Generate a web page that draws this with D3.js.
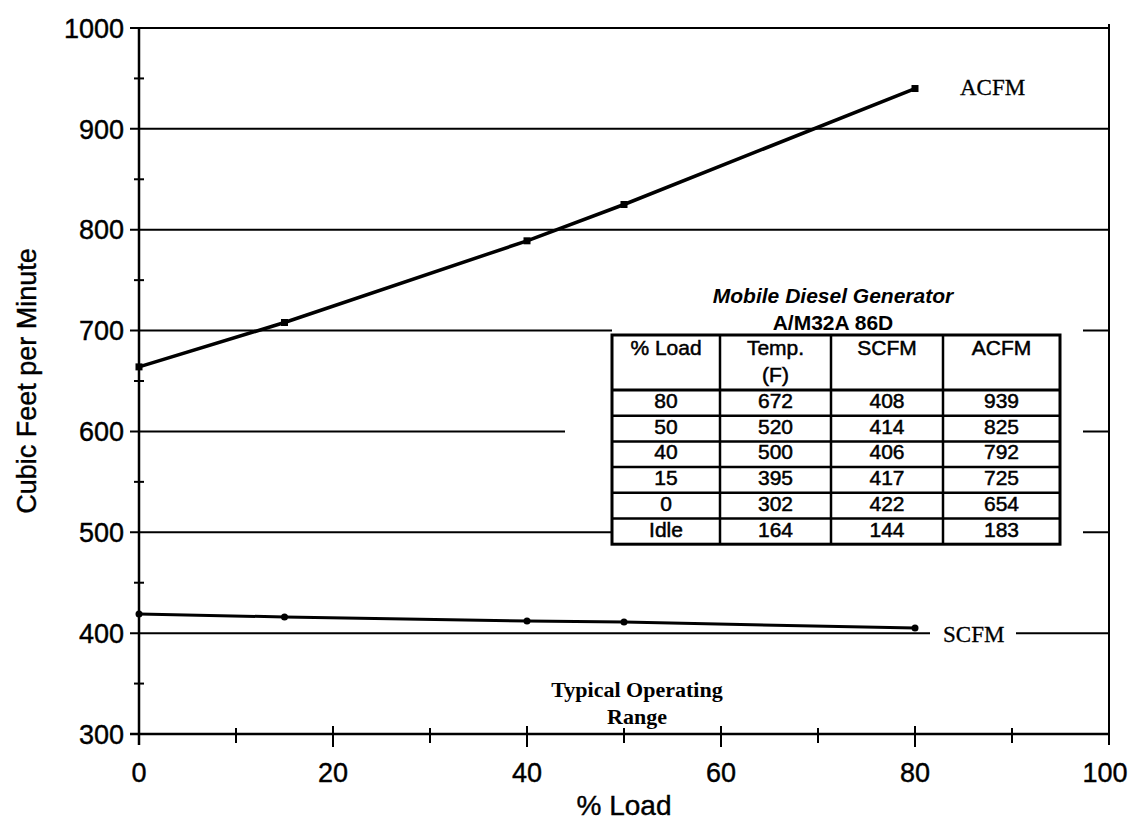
<!DOCTYPE html>
<html><head><meta charset="utf-8">
<script src="https://cdn.jsdelivr.net/npm/d3@7"></script>
<style>html,body{margin:0;padding:0;background:#fff;}svg{display:block;}</style>
</head><body>
<svg id="c" width="1134" height="823"></svg>
<script>
// ---- data ----
const loads = [0, 15, 40, 50, 80];
const acfmPlot = [664, 708, 789, 825, 940];
const scfmPlot = [419, 416, 412, 411, 405];
const xTicks = [0, 20, 40, 60, 80, 100];
const yTicks = [300, 400, 500, 600, 700, 800, 900, 1000];
const tableTitle = ["Mobile Diesel Generator", "A/M32A 86D"];
const tableHeaders = [["% Load"], ["Temp.", "(F)"], ["SCFM"], ["ACFM"]];
const tableLoad = ["80", "50", "40", "15", "0", "Idle"];
const tableTemp = [672, 520, 500, 395, 302, 164];
const tableScfm = [408, 414, 406, 417, 422, 144];
const tableAcfm = [939, 825, 792, 725, 654, 183];

const svg = d3.select("#c");
const x = d3.scaleLinear().domain([0, 100]).range([139, 1109]);
const y = d3.scaleLinear().domain([300, 1000]).range([734, 28]);
const sans = "'Liberation Sans', Arial, sans-serif";
const serif = "'Liberation Serif', 'Times New Roman', serif";

// gridlines
svg.append("g").selectAll("line").data(yTicks.filter(d => d > 300)).join("line")
  .attr("x1", x(0) - 9).attr("x2", x(100)).attr("y1", d => y(d)).attr("y2", d => y(d))
  .attr("stroke", "#000").attr("stroke-width", 2);

// axes
const g = svg.append("g").attr("stroke", "#000");
g.append("line").attr("x1", x(0)).attr("x2", x(0)).attr("y1", y(1000)).attr("y2", y(300) + 11).attr("stroke-width", 2.5);
g.append("line").attr("x1", x(100)).attr("x2", x(100)).attr("y1", y(1000) - 4).attr("y2", y(300) + 11).attr("stroke-width", 2);
g.append("line").attr("x1", x(0) - 9).attr("x2", x(100)).attr("y1", y(300)).attr("y2", y(300)).attr("stroke-width", 2.5);
// minor y ticks
g.selectAll(".ym").data(d3.range(350, 1000, 100)).join("line")
  .attr("x1", x(0) - 5).attr("x2", x(0) + 5).attr("y1", d => y(d)).attr("y2", d => y(d)).attr("stroke-width", 2);
// x ticks
g.selectAll(".xt").data(d3.range(10, 100, 10)).join("line")
  .attr("x1", d => x(d)).attr("x2", d => x(d))
  .attr("y1", d => y(300) - (d % 20 === 0 ? 8 : 6)).attr("y2", d => y(300) + (d % 20 === 0 ? 13 : 9))
  .attr("stroke-width", 2);

// tick labels
const tl = svg.append("g").attr("font-family", sans).attr("font-size", 27).attr("stroke", "#000").attr("stroke-width", 0.4);
tl.selectAll(".yl").data(yTicks).join("text")
  .attr("x", 124).attr("y", d => y(d)).attr("dy", "0.36em").attr("text-anchor", "end").text(d => d);
tl.selectAll(".xl").data(xTicks).join("text")
  .attr("x", d => x(d) - (d === 100 ? 4 : 0)).attr("y", 782).attr("text-anchor", "middle").text(d => d);

// axis titles
svg.append("text").attr("transform", `translate(36,${(y(300) + y(1000)) / 2}) rotate(-90)`)
  .attr("text-anchor", "middle").attr("font-family", sans).attr("font-size", 27)
  .attr("stroke", "#000").attr("stroke-width", 0.4).text("Cubic Feet per Minute");
svg.append("text").attr("x", x(50)).attr("y", 815).attr("text-anchor", "middle")
  .attr("font-family", sans).attr("font-size", 28).attr("stroke", "#000").attr("stroke-width", 0.4).text("% Load");

// series lines
const line = d3.line().x(d => x(d[0])).y(d => y(d[1]));
svg.append("path").datum(loads.map((l, i) => [l, acfmPlot[i]])).attr("d", line)
  .attr("fill", "none").attr("stroke", "#000").attr("stroke-width", 3.5);
svg.append("g").selectAll("rect").data(loads.map((l, i) => [l, acfmPlot[i]])).join("rect")
  .attr("x", d => x(d[0]) - 3.5).attr("y", d => y(d[1]) - 3.5).attr("width", 7).attr("height", 7).attr("fill", "#000");
svg.append("path").datum(loads.map((l, i) => [l, scfmPlot[i]])).attr("d", line)
  .attr("fill", "none").attr("stroke", "#000").attr("stroke-width", 3);
svg.append("g").selectAll("circle").data(loads.map((l, i) => [l, scfmPlot[i]])).join("circle")
  .attr("cx", d => x(d[0])).attr("cy", d => y(d[1])).attr("r", 3.5).attr("fill", "#000");

// series labels
svg.append("text").attr("x", 960).attr("y", 95).attr("font-family", serif).attr("font-size", 23)
  .attr("stroke", "#000").attr("stroke-width", 0.3).text("ACFM");
svg.append("rect").attr("x", 930).attr("y", y(400) - 14).attr("width", 86).attr("height", 24).attr("fill", "#fff");
svg.append("text").attr("x", 943).attr("y", 642).attr("font-family", serif).attr("font-size", 23)
  .attr("stroke", "#000").attr("stroke-width", 0.3).text("SCFM");

// annotation
svg.append("g").attr("font-family", serif).attr("font-weight", "bold").attr("font-size", 22).attr("text-anchor", "middle")
  .selectAll("text").data(["Typical Operating", "Range"]).join("text")
  .attr("x", 637).attr("y", (d, i) => 697 + i * 27).text(d => d);

// table
const tb = svg.append("g");
const tL = 612, tR = 1060, tT = 335, hdrB = 390, rowH = 25.7;
const cols = [tL, 720, 831, 943, tR];
const colC = cols.slice(0, 4).map((c, i) => (c + cols[i + 1]) / 2);
tb.append("rect").attr("x", tL).attr("y", 290).attr("width", 1083 - tL).attr("height", 260).attr("fill", "#fff");
tb.append("rect").attr("x", 565).attr("y", 420).attr("width", 50).attr("height", 40).attr("fill", "#fff");
tb.append("g").attr("text-anchor", "middle").attr("font-family", sans).attr("font-weight", "bold").attr("font-size", 21)
  .selectAll("text").data(tableTitle).join("text")
  .attr("x", 833).attr("y", (d, i) => 303 + i * 27).attr("font-style", (d, i) => i === 0 ? "italic" : "normal").text(d => d);
const tBot = hdrB + rowH * tableLoad.length;
tb.append("rect").attr("x", tL).attr("y", tT).attr("width", tR - tL).attr("height", tBot - tT)
  .attr("fill", "none").attr("stroke", "#000").attr("stroke-width", 3);
tb.selectAll(".vl").data(cols.slice(1, 4)).join("line")
  .attr("x1", d => d).attr("x2", d => d).attr("y1", tT).attr("y2", tBot).attr("stroke", "#000").attr("stroke-width", 2.5);
tb.selectAll(".hl").data(d3.range(0, tableLoad.length)).join("line")
  .attr("x1", tL).attr("x2", tR).attr("y1", i => hdrB + i * rowH).attr("y2", i => hdrB + i * rowH)
  .attr("stroke", "#000").attr("stroke-width", i => i === 0 ? 3 : 2.5);
const tt = tb.append("g").attr("text-anchor", "middle").attr("font-family", sans).attr("font-size", 21)
  .attr("stroke", "#000").attr("stroke-width", 0.5);
tableHeaders.forEach((h, ci) => {
  h.forEach((s, li) => tt.append("text").attr("x", colC[ci]).attr("y", 355 + li * 27).text(s));
});
const rows = tableLoad.map((l, i) => [l, tableTemp[i], tableScfm[i], tableAcfm[i]]);
rows.forEach((r, ri) => {
  r.forEach((v, ci) => tt.append("text").attr("x", colC[ci]).attr("y", hdrB + ri * rowH + 18).text(v));
});
</script>
</body></html>
